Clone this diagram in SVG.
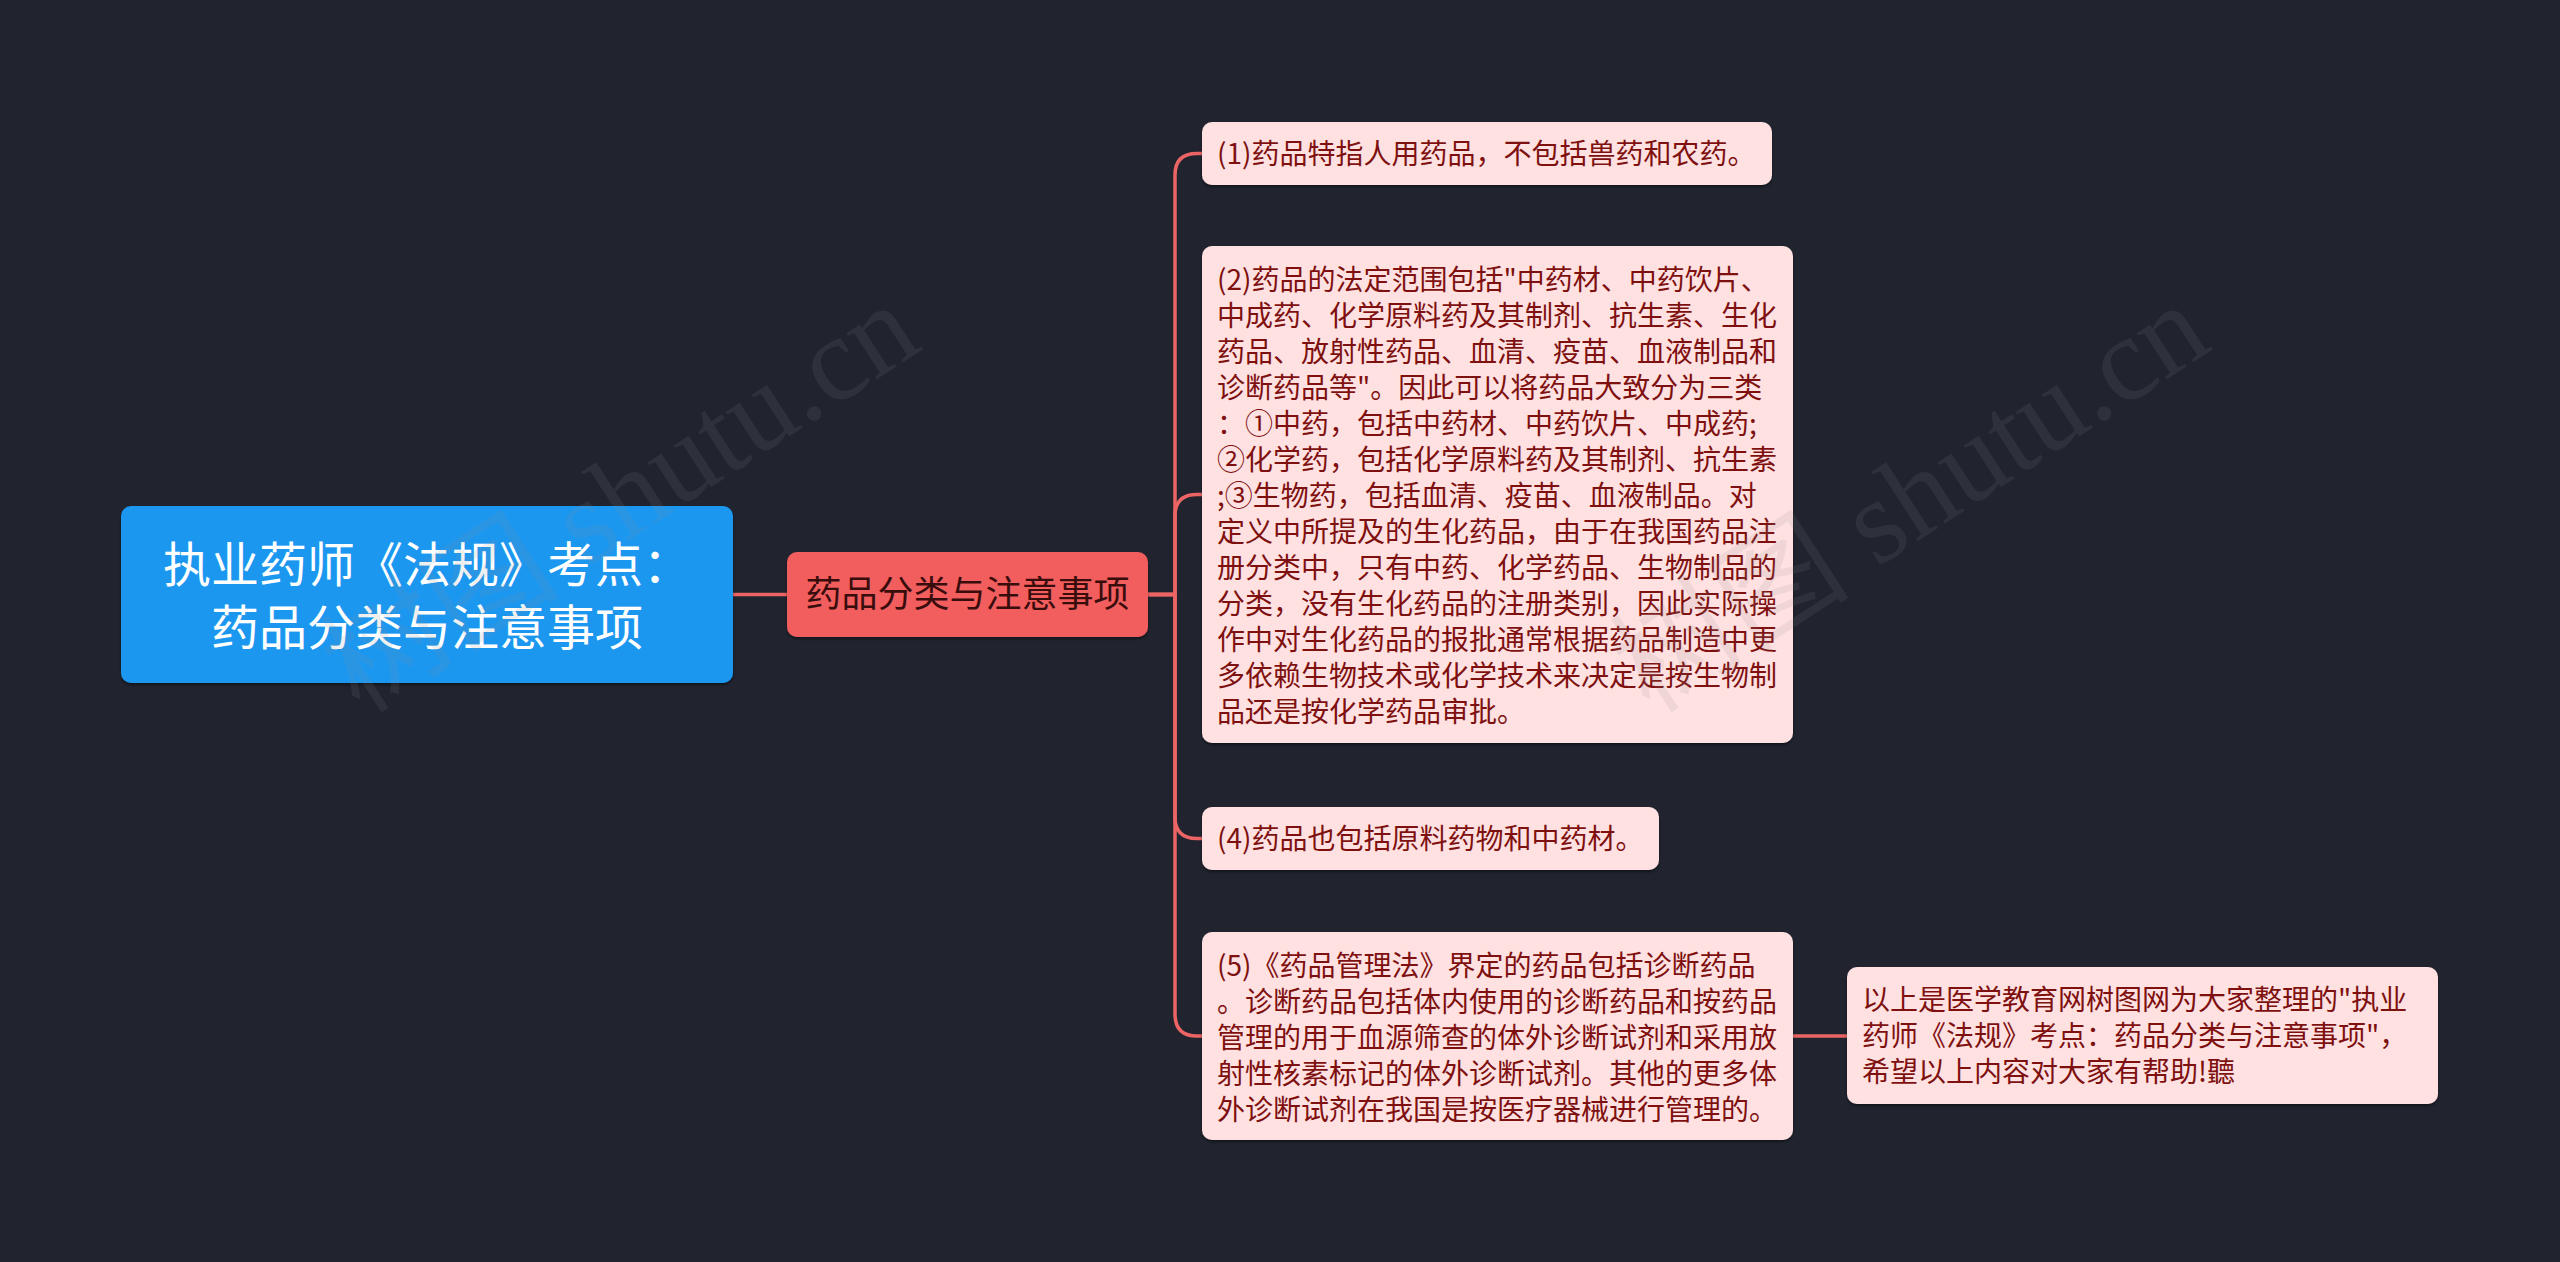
<svg xmlns="http://www.w3.org/2000/svg" width="2560" height="1262" viewBox="0 0 2560 1262">
<defs>
<style>
.bg{fill:#21242f}
.root{fill:#1c97f0}
.main{fill:#f25d5d}
.leaf{fill:#ffe1e1}
.link{fill:none;stroke:#ec6464;stroke-width:3.5;stroke-linecap:round}
.t{font-family:"Noto Sans CJK SC","Noto Sans",sans-serif}
.rt{font-size:48px;fill:#ffffff;text-anchor:middle}
.mt{font-size:36px;fill:#3a0d0d;text-anchor:middle}
.lt{font-size:28px;fill:#7e1010}
.wm{font-family:"Liberation Serif","Noto Sans CJK SC",serif;font-size:120px;fill:#8a8a8a;opacity:0.13}
</style>
<filter id="sh" x="-5%" y="-5%" width="110%" height="115%">
<feDropShadow dx="0" dy="2" stdDeviation="1.5" flood-color="#000000" flood-opacity="0.45"/>
</filter>
</defs>
<rect class="bg" x="0" y="0" width="2560" height="1262"/>

<g id="connectors">
<path class="link" d="M733 594.5 H787"/>
<path class="link" d="M1148 594.5 H1175 V175 Q1175 153.5 1197 153.5 H1202"/>
<path class="link" d="M1148 594.5 H1175 V516 Q1175 494.5 1197 494.5 H1202"/>
<path class="link" d="M1148 594.5 H1175 V817 Q1175 838.5 1197 838.5 H1202"/>
<path class="link" d="M1148 594.5 H1175 V1014 Q1175 1036 1197 1036 H1202"/>
<path class="link" d="M1793 1036 H1847"/>
</g>

<g id="root">
<rect class="root" x="121" y="506" width="612" height="177" rx="10" filter="url(#sh)"/>
<text class="t rt" x="427" y="582">执业药师《法规》考点：</text>
<text class="t rt" x="427" y="645">药品分类与注意事项</text>
</g>

<g id="main">
<rect class="main" x="787" y="552" width="361" height="85" rx="10" filter="url(#sh)"/>
<text class="t mt" x="967.5" y="607">药品分类与注意事项</text>
</g>

<g id="n1">
<rect class="leaf" x="1202" y="122" width="570" height="63" rx="10" filter="url(#sh)"/>
<text class="t lt" x="1217" y="164">(1)药品特指人用药品，不包括兽药和农药。</text>
</g>

<g id="n2">
<rect class="leaf" x="1202" y="246" width="591" height="497" rx="10" filter="url(#sh)"/>
<text class="t lt">
<tspan x="1217" y="290">(2)药品的法定范围包括"中药材、中药饮片、</tspan>
<tspan x="1217" y="326">中成药、化学原料药及其制剂、抗生素、生化</tspan>
<tspan x="1217" y="362">药品、放射性药品、血清、疫苗、血液制品和</tspan>
<tspan x="1217" y="398">诊断药品等"。因此可以将药品大致分为三类</tspan>
<tspan x="1217" y="434">：①中药，包括中药材、中药饮片、中成药;</tspan>
<tspan x="1217" y="470">②化学药，包括化学原料药及其制剂、抗生素</tspan>
<tspan x="1217" y="506">;③生物药，包括血清、疫苗、血液制品。对</tspan>
<tspan x="1217" y="542">定义中所提及的生化药品，由于在我国药品注</tspan>
<tspan x="1217" y="578">册分类中，只有中药、化学药品、生物制品的</tspan>
<tspan x="1217" y="614">分类，没有生化药品的注册类别，因此实际操</tspan>
<tspan x="1217" y="650">作中对生化药品的报批通常根据药品制造中更</tspan>
<tspan x="1217" y="686">多依赖生物技术或化学技术来决定是按生物制</tspan>
<tspan x="1217" y="722">品还是按化学药品审批。</tspan>
</text>
</g>

<g id="n4">
<rect class="leaf" x="1202" y="807" width="457" height="63" rx="10" filter="url(#sh)"/>
<text class="t lt" x="1217" y="849">(4)药品也包括原料药物和中药材。</text>
</g>

<g id="n5">
<rect class="leaf" x="1202" y="932" width="591" height="208" rx="10" filter="url(#sh)"/>
<text class="t lt">
<tspan x="1217" y="976">(5)《药品管理法》界定的药品包括诊断药品</tspan>
<tspan x="1217" y="1012">。诊断药品包括体内使用的诊断药品和按药品</tspan>
<tspan x="1217" y="1048">管理的用于血源筛查的体外诊断试剂和采用放</tspan>
<tspan x="1217" y="1084">射性核素标记的体外诊断试剂。其他的更多体</tspan>
<tspan x="1217" y="1120">外诊断试剂在我国是按医疗器械进行管理的。</tspan>
</text>
</g>

<g id="n6">
<rect class="leaf" x="1847" y="967" width="591" height="137" rx="10" filter="url(#sh)"/>
<text class="t lt">
<tspan x="1862" y="1010">以上是医学教育网树图网为大家整理的"执业</tspan>
<tspan x="1862" y="1046">药师《法规》考点：药品分类与注意事项"，</tspan>
<tspan x="1862" y="1082">希望以上内容对大家有帮助!聽</tspan>
</text>
</g>

<g id="watermarks">
<text class="wm" transform="translate(360 715) rotate(-33)">树图 shutu.cn</text>
<text class="wm" transform="translate(1650 715) rotate(-33)">树图 shutu.cn</text>
</g>
</svg>
